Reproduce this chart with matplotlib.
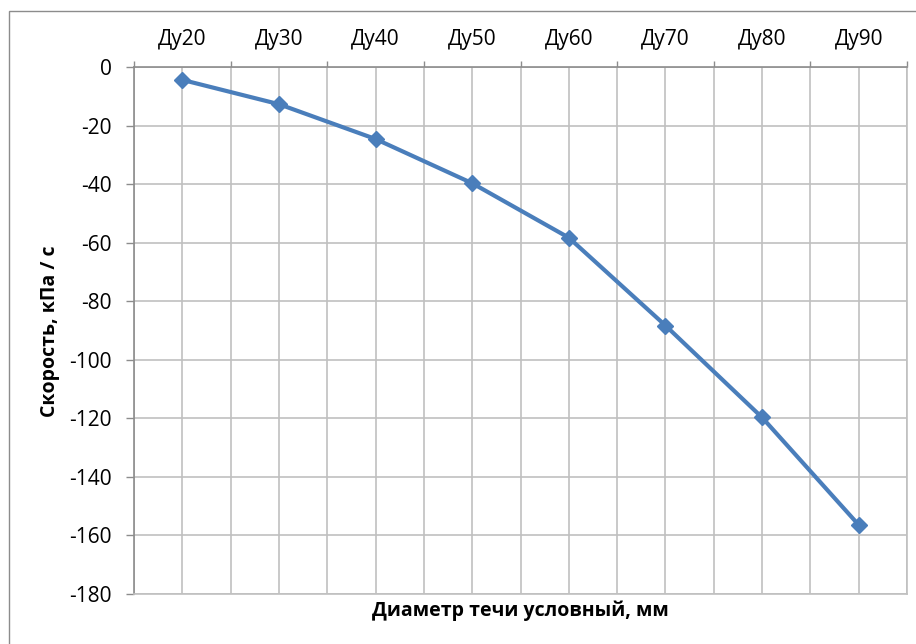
import numpy as np
import matplotlib.pyplot as plt
from matplotlib.patches import Rectangle

categories = ["Ду20", "Ду30", "Ду40", "Ду50", "Ду60", "Ду70", "Ду80", "Ду90"]
speed = [-4.4, -12.7, -24.6, -39.7, -58.3, -88.3, -119.7, -156.4]
y_ticks = [0, -20, -40, -60, -80, -100, -120, -140, -160, -180]

plt.rcParams["font.family"] = ["Open Sans", "DejaVu Sans"]

fig = plt.figure(figsize=(9.16, 6.44), dpi=100)
ax = fig.add_axes([134 / 916, 1 - 594 / 644, (907 - 134) / 916, (594 - 67) / 644])

# outer chart border (cropped on the right and bottom)
fig.patches.append(Rectangle((9 / 916, -0.1), 1.2, 1 - 11 / 644 + 0.1,
                             transform=fig.transFigure, fill=False,
                             edgecolor="#8c8c8c", linewidth=1.0))

grid_c = "#c0c0c0"
x = np.arange(len(categories))
ax.plot(x, speed, color="#4a7ebb", linewidth=3.0, marker="D", markersize=8.5,
        zorder=3, clip_on=False)

ax.set_xlim(-0.5, len(categories) - 0.5)
ax.set_ylim(-180, 0)

ax.xaxis.tick_top()
ax.set_xticks(x)
ax.set_xticklabels(categories, fontsize=15)
ax.set_xticks(np.arange(-0.5, len(categories), 1), minor=True)
ax.tick_params(axis="x", which="major", length=0, pad=12)
ax.tick_params(axis="x", which="minor", length=4, color="#8c8c8c", width=1.0)

ax.set_yticks(y_ticks)
ax.set_yticklabels([str(v) for v in y_ticks], fontsize=15)
ax.tick_params(axis="y", length=6, color="#8c8c8c", width=1.0, pad=10)

ax.grid(True, which="both", axis="x", color=grid_c, linewidth=1.2)
ax.grid(True, which="major", axis="y", color=grid_c, linewidth=1.2)
ax.set_axisbelow(True)

for side in ["top", "left"]:
    ax.spines[side].set_color("#8c8c8c")
    ax.spines[side].set_linewidth(1.2)
for side in ["right", "bottom"]:
    ax.spines[side].set_color(grid_c)
    ax.spines[side].set_linewidth(1.2)

fig.text(50 / 916, 1 - 331 / 644, "Скорость, кПа / с", rotation=90,
         ha="center", va="center", fontsize=14, fontweight="bold")
fig.text(520 / 916, 1 - 611 / 644, "Диаметр течи условный, мм",
         ha="center", va="center", fontsize=14, fontweight="bold")

fig.savefig("out.png", dpi=100)
